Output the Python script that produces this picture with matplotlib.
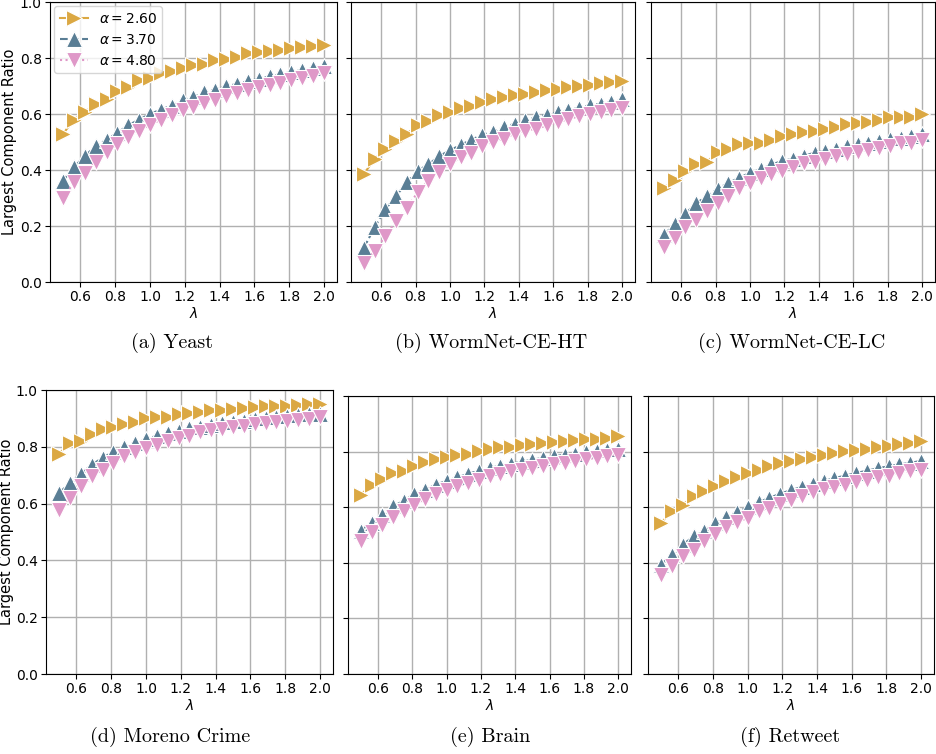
import numpy as np
import matplotlib
matplotlib.use("Agg")
import matplotlib.pyplot as plt

# lambda values (25 points, 0.5 .. 2.0)
lam = [0.5, 0.5625, 0.625, 0.6875, 0.75, 0.8125, 0.875, 0.9375, 1.0, 1.0625,
       1.125, 1.1875, 1.25, 1.3125, 1.375, 1.4375, 1.5, 1.5625, 1.625, 1.6875,
       1.75, 1.8125, 1.875, 1.9375, 2.0]

alphas = ["2.60", "3.70", "4.80"]

yeast_a = [0.529, 0.58, 0.607, 0.635, 0.653, 0.683, 0.695, 0.72, 0.727, 0.745, 0.753, 0.763, 0.775,
           0.78, 0.793, 0.796, 0.805, 0.817, 0.82, 0.825, 0.829, 0.835, 0.84, 0.842, 0.847]
yeast_b = [0.362, 0.41, 0.45, 0.485, 0.508, 0.533, 0.56, 0.58, 0.60, 0.616, 0.63, 0.65, 0.66,
           0.68, 0.687, 0.70, 0.707, 0.717, 0.726, 0.734, 0.742, 0.75, 0.757, 0.763, 0.771]
yeast_c = [0.30, 0.356, 0.39, 0.43, 0.463, 0.493, 0.517, 0.54, 0.56, 0.58, 0.595, 0.613, 0.625,
           0.64, 0.651, 0.663, 0.675, 0.685, 0.695, 0.703, 0.711, 0.72, 0.729, 0.736, 0.745]

ht_a = [0.386, 0.44, 0.475, 0.505, 0.53, 0.56, 0.574, 0.595, 0.607, 0.623, 0.63, 0.643, 0.653,
        0.659, 0.667, 0.673, 0.679, 0.685, 0.691, 0.696, 0.70, 0.704, 0.709, 0.713, 0.717]
ht_b = [0.122, 0.196, 0.26, 0.308, 0.356, 0.398, 0.42, 0.45, 0.47, 0.49, 0.508, 0.526, 0.535,
        0.553, 0.565, 0.577, 0.589, 0.598, 0.606, 0.613, 0.623, 0.631, 0.637, 0.643, 0.652]
ht_c = [0.068, 0.11, 0.164, 0.218, 0.266, 0.32, 0.362, 0.392, 0.42, 0.446, 0.46, 0.487, 0.50,
        0.511, 0.53, 0.541, 0.547, 0.559, 0.571, 0.581, 0.592, 0.601, 0.607, 0.616, 0.622]

lc_a = [0.336, 0.364, 0.396, 0.42, 0.428, 0.466, 0.474, 0.492, 0.496, 0.498, 0.508, 0.522, 0.528,
        0.534, 0.54, 0.548, 0.552, 0.564, 0.567, 0.57, 0.579, 0.588, 0.588, 0.59, 0.60]
lc_b = [0.168, 0.208, 0.244, 0.282, 0.306, 0.333, 0.354, 0.372, 0.39, 0.402, 0.42, 0.432, 0.44,
        0.45, 0.462, 0.468, 0.474, 0.484, 0.492, 0.498, 0.504, 0.51, 0.516, 0.522, 0.53]
lc_c = [0.126, 0.156, 0.198, 0.222, 0.254, 0.282, 0.308, 0.336, 0.354, 0.37, 0.384, 0.396, 0.412,
        0.424, 0.43, 0.438, 0.45, 0.456, 0.466, 0.472, 0.48, 0.486, 0.495, 0.498, 0.507]

crime_a = [0.776, 0.812, 0.821, 0.845, 0.863, 0.868, 0.88, 0.889, 0.90, 0.904, 0.906, 0.916, 0.918,
           0.922, 0.928, 0.93, 0.934, 0.937, 0.94, 0.942, 0.943, 0.945, 0.948, 0.949, 0.951]
crime_b = [0.637, 0.673, 0.705, 0.736, 0.762, 0.782, 0.80, 0.815, 0.827, 0.839, 0.847, 0.857, 0.865,
           0.871, 0.878, 0.883, 0.889, 0.892, 0.897, 0.902, 0.904, 0.908, 0.911, 0.914, 0.916]
crime_c = [0.578, 0.62, 0.661, 0.697, 0.72, 0.744, 0.768, 0.783, 0.797, 0.807, 0.821, 0.831, 0.839,
           0.851, 0.859, 0.863, 0.871, 0.874, 0.88, 0.883, 0.886, 0.892, 0.895, 0.898, 0.904]

brain_a = [0.645, 0.681, 0.701, 0.723, 0.729, 0.747, 0.761, 0.773, 0.78, 0.788, 0.793, 0.801, 0.809,
           0.815, 0.817, 0.823, 0.827, 0.831, 0.835, 0.839, 0.841, 0.844, 0.847, 0.85, 0.855]
brain_b = [0.516, 0.543, 0.573, 0.603, 0.623, 0.647, 0.663, 0.681, 0.695, 0.707, 0.72, 0.731, 0.741,
           0.749, 0.757, 0.763, 0.771, 0.777, 0.783, 0.789, 0.793, 0.80, 0.803, 0.807, 0.811]
brain_c = [0.477, 0.51, 0.537, 0.564, 0.588, 0.609, 0.63, 0.649, 0.663, 0.675, 0.687, 0.699, 0.711,
           0.721, 0.729, 0.735, 0.741, 0.747, 0.755, 0.759, 0.765, 0.773, 0.777, 0.785, 0.789]

retweet_a = [0.543, 0.585, 0.609, 0.639, 0.657, 0.675, 0.693, 0.709, 0.723, 0.735, 0.748, 0.758, 0.765,
             0.774, 0.782, 0.789, 0.794, 0.801, 0.805, 0.811, 0.816, 0.821, 0.827, 0.832, 0.837]
retweet_b = [0.393, 0.429, 0.465, 0.495, 0.513, 0.543, 0.565, 0.582, 0.60, 0.618, 0.633, 0.649, 0.661,
             0.673, 0.683, 0.693, 0.705, 0.713, 0.723, 0.731, 0.74, 0.747, 0.754, 0.759, 0.767]
retweet_c = [0.357, 0.39, 0.423, 0.447, 0.477, 0.504, 0.529, 0.546, 0.561, 0.585, 0.597, 0.612, 0.625,
             0.639, 0.653, 0.665, 0.673, 0.681, 0.691, 0.699, 0.709, 0.713, 0.723, 0.729, 0.735]

captions = ["(a) Yeast", "(b) WormNet-CE-HT", "(c) WormNet-CE-LC",
            "(d) Moreno Crime", "(e) Brain", "(f) Retweet"]
series = [(yeast_a, yeast_b, yeast_c), (ht_a, ht_b, ht_c), (lc_a, lc_b, lc_c),
          (crime_a, crime_b, crime_c), (brain_a, brain_b, brain_c),
          (retweet_a, retweet_b, retweet_c)]

colors = ["#DBA843", "#5A7E95", "#DF98C8"]
markers = [">", "^", "v"]
styles = ["-", "--", ":"]

W, H = 936, 754
# axes boxes in pixels: left, top, right, bottom
boxes = [(50, 2, 337, 282), (351, 2, 635, 282), (651, 2, 935, 282),
         (46, 390, 333, 674), (348, 396, 631, 674), (648, 396, 934, 674)]
cap_pos = [(172, 343), (491, 343), (792, 343), (170, 737), (490, 737), (790, 737)]

fig = plt.figure(figsize=(W / 100, H / 100), dpi=100)

for i, (box, data) in enumerate(zip(boxes, series)):
    l, t, r, b = box
    ax = fig.add_axes([l / W, 1 - b / H, (r - l) / W, (b - t) / H])
    for k in range(3):
        ax.plot(lam, data[k], linestyle=styles[k], color=colors[k], marker=markers[k],
                ms=11.5, mec="white", mew=0.8, lw=1.5,
                label=r"$\alpha = %s$" % alphas[k])
    ax.set_ylim(0, 1.0)
    ax.set_yticks(np.arange(0, 1.01, 0.2))
    ax.set_xticks([0.6, 0.8, 1.0, 1.2, 1.4, 1.6, 1.8, 2.0])
    ax.grid(True, color="#b0b0b0", lw=1)
    ax.set_axisbelow(True)
    ax.tick_params(labelsize=10, pad=2.5)
    ax.set_xlabel(r"$\lambda$", fontsize=10, labelpad=1)
    if i % 3 == 0:
        ax.set_ylabel("Largest Component Ratio", fontsize=10.5, labelpad=2 if i == 0 else 1)
    else:
        ax.set_yticklabels([])
    if i == 0:
        ax.legend(loc="upper left", fontsize=10, borderaxespad=0.3)
    fig.text(cap_pos[i][0] / W, 1 - cap_pos[i][1] / H, captions[i],
             family="cmr10", fontsize=14.5, ha="center", va="center")

fig.savefig("out.png", dpi=100)
